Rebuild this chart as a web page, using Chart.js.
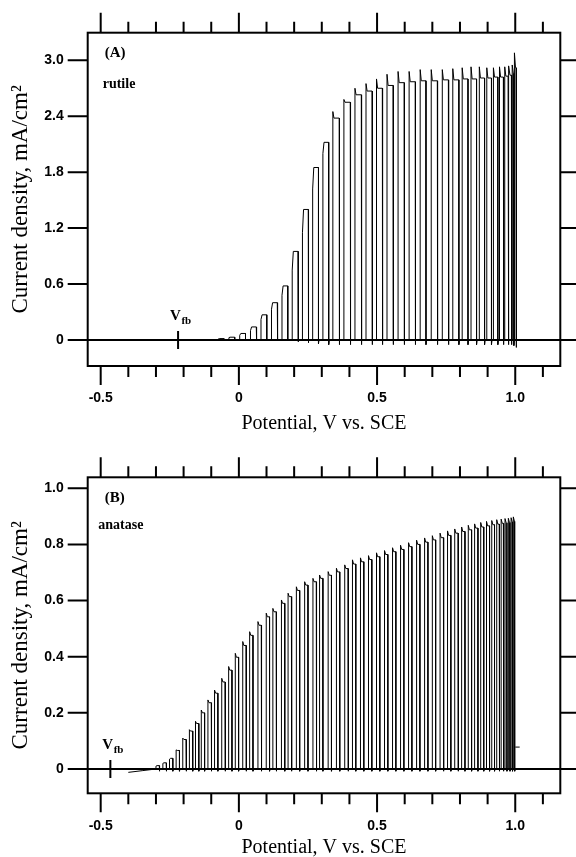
<!DOCTYPE html>
<html><head><meta charset="utf-8">
<script src="https://cdn.jsdelivr.net/npm/chart.js@4.4.0/dist/chart.umd.min.js"></script>
<style>
html,body{margin:0;padding:0;background:#fff;overflow:hidden;width:576px;height:857px;}
canvas{position:absolute;left:0;}
#c1{top:0;}
#c2{top:440px;}
</style></head><body>
<canvas id="c1" width="576" height="440"></canvas>
<canvas id="c2" width="576" height="440"></canvas>
<script>
// ---------- axis ticks ----------
const xTickValues = [-0.5, 0, 0.5, 1.0];
const xTickLabels = ['-0.5', '0', '0.5', '1.0'];
const xMinorValues = [-0.4, -0.3, -0.2, -0.1, 0.1, 0.2, 0.3, 0.4, 0.6, 0.7, 0.8, 0.9, 1.1];
const rutileYTicks = [0, 0.6, 1.2, 1.8, 2.4, 3.0];
const rutileYLabels = ['0', '0.6', '1.2', '1.8', '2.4', '3.0'];
const anataseYTicks = [0, 0.2, 0.4, 0.6, 0.8, 1.0];
const anataseYLabels = ['0', '0.2', '0.4', '0.6', '0.8', '1.0'];
const xTitle = 'Potential, V vs. SCE';
const yTitle = 'Current density, mA/cm²';
const rutileVfb = -0.22;
const anataseVfb = -0.465;

// ---------- (A) rutile: chopped-light cycles ----------
const rutileOnV  = [-0.075,-0.036,0.003,0.042,0.080,0.118,0.156,0.193,0.230,0.267,0.304,0.340,0.380,0.420,0.460,0.498,0.536,0.576,0.616,0.656,0.696,0.736,0.774,0.808,0.840,0.870,0.897,0.921,0.943,0.962,0.977,0.989,0.997];
const rutileOffV = [-0.054,-0.015,0.024,0.063,0.101,0.139,0.177,0.214,0.251,0.288,0.325,0.363,0.403,0.443,0.482,0.519,0.558,0.598,0.638,0.677,0.718,0.758,0.796,0.829,0.860,0.889,0.914,0.937,0.957,0.974,0.986,0.995,1.003];
const rutilePeakI = [0.010,0.025,0.050,0.100,0.220,0.330,0.480,0.750,1.150,1.620,2.000,2.450,2.580,2.700,2.750,2.800,2.850,2.880,2.880,2.900,2.900,2.900,2.910,2.920,2.930,2.930,2.920,2.920,2.930,2.930,2.940,2.950,3.080];
const rutileEndI  = [0.015,0.030,0.070,0.140,0.270,0.400,0.580,0.950,1.400,1.850,2.120,2.380,2.550,2.630,2.670,2.700,2.730,2.760,2.770,2.780,2.780,2.790,2.790,2.800,2.800,2.810,2.810,2.820,2.820,2.830,2.840,2.860,2.920];
const rutileDipI  = [0,0,0,0,0,0,-0.01,-0.02,-0.03,-0.04,-0.05,-0.05,-0.05,-0.05,-0.05,-0.05,-0.05,-0.05,-0.05,-0.05,-0.05,-0.05,-0.05,-0.05,-0.05,-0.05,-0.05,-0.05,-0.05,-0.05,-0.05,-0.06,-0.08];

// ---------- (B) anatase: chopped-light cycles ----------
const anataseDarkV = [-0.40, -0.35, -0.30];
const anataseDarkI = [-0.012, -0.006, 0];
const anataseOnV  = [-0.300,-0.275,-0.251,-0.227,-0.203,-0.179,-0.157,-0.136,-0.112,-0.088,-0.062,-0.037,-0.013,0.014,0.039,0.069,0.099,0.123,0.154,0.178,0.208,0.238,0.268,0.292,0.323,0.353,0.383,0.411,0.440,0.469,0.498,0.527,0.556,0.585,0.614,0.643,0.672,0.700,0.728,0.755,0.781,0.806,0.830,0.853,0.875,0.896,0.915,0.933,0.949,0.963,0.975,0.985,0.993];
const anataseOffV = [-0.288,-0.263,-0.239,-0.215,-0.191,-0.167,-0.145,-0.124,-0.100,-0.076,-0.050,-0.025,-0.001,0.026,0.051,0.081,0.111,0.135,0.166,0.190,0.220,0.250,0.280,0.304,0.335,0.365,0.395,0.423,0.452,0.481,0.510,0.539,0.568,0.597,0.626,0.655,0.684,0.712,0.740,0.767,0.793,0.818,0.842,0.865,0.886,0.907,0.925,0.942,0.957,0.970,0.981,0.990,0.998];
const anatasePeakI = [0.010,0.020,0.035,0.068,0.110,0.140,0.170,0.210,0.246,0.281,0.323,0.365,0.412,0.454,0.489,0.525,0.555,0.572,0.602,0.626,0.649,0.667,0.679,0.691,0.703,0.715,0.727,0.745,0.752,0.760,0.770,0.778,0.788,0.797,0.806,0.815,0.823,0.831,0.840,0.848,0.855,0.862,0.868,0.873,0.878,0.882,0.885,0.888,0.890,0.892,0.893,0.895,0.898];
const anataseEndI  = [0.012,0.022,0.038,0.066,0.105,0.135,0.162,0.200,0.236,0.270,0.310,0.352,0.398,0.440,0.476,0.512,0.542,0.560,0.590,0.614,0.636,0.655,0.667,0.679,0.690,0.702,0.714,0.730,0.738,0.746,0.756,0.764,0.774,0.782,0.792,0.800,0.808,0.816,0.824,0.832,0.840,0.846,0.852,0.858,0.862,0.866,0.870,0.872,0.875,0.877,0.878,0.880,0.882];
const anataseDipI = -0.008;
const anataseTailV = [1.000, 1.016];
const anataseTailI = [0.078, 0.078];

// ---------- build traces from the arrays ----------
const spikeDecayV = 0.004;   // width of the light-on current spike
const dipRecoverV = 0.002;   // width of the light-off transient
function buildTrace(onV, offV, peakI, endI, dip, preV, preI) {
  const pts = [];
  if (preV) preV.forEach((v, i) => pts.push({x: v, y: preI[i]}));
  onV.forEach((on, i) => {
    const d = Array.isArray(dip) ? dip[i] : dip;
    pts.push({x: on, y: 0});
    pts.push({x: on, y: peakI[i]});
    pts.push({x: Math.min(on + spikeDecayV, offV[i]), y: endI[i]});
    pts.push({x: offV[i], y: endI[i]});
    pts.push({x: offV[i], y: d});
    pts.push({x: offV[i] + dipRecoverV, y: 0});
  });
  return pts;
}
const rutileTrace = buildTrace(rutileOnV, rutileOffV, rutilePeakI, rutileEndI, rutileDipI);
const anataseTrace = buildTrace(anataseOnV, anataseOffV, anatasePeakI, anataseEndI, anataseDipI, anataseDarkV, anataseDarkI);
const anataseTail = anataseTailV.map((v, i) => ({x: v, y: anataseTailI[i]}));

// ---------- decoration plugin (box, ticks, zero line, labels) ----------
const decor = {
  id: 'decor',
  afterDraw(chart, args, o) {
    const {ctx, chartArea: a, scales: {x, y}} = chart;
    ctx.save();
    ctx.strokeStyle = '#000';
    ctx.lineWidth = 2;
    ctx.beginPath();
    for (const v of xMinorValues) {
      const px = x.getPixelForValue(v);
      ctx.moveTo(px, a.bottom); ctx.lineTo(px, a.bottom + 11);
      ctx.moveTo(px, a.top); ctx.lineTo(px, a.top - 11);
    }
    for (const v of xTickValues) {
      const px = x.getPixelForValue(v);
      ctx.moveTo(px, a.bottom); ctx.lineTo(px, a.bottom + 19);
      ctx.moveTo(px, a.top); ctx.lineTo(px, a.top - 20);
    }
    for (const v of o.yTicks) {
      const py = y.getPixelForValue(v);
      ctx.moveTo(a.left - 20, py); ctx.lineTo(a.left, py);
      ctx.moveTo(a.right, py); ctx.lineTo(chart.width, py);
    }
    const y0 = y.getPixelForValue(0);
    ctx.moveTo(a.left - 20, y0); ctx.lineTo(chart.width, y0);
    const vx = x.getPixelForValue(o.vfb);
    ctx.moveTo(vx, y0 - 9); ctx.lineTo(vx, y0 + 9);
    ctx.stroke();
    ctx.strokeRect(a.left, a.top, a.right - a.left, a.bottom - a.top);

    ctx.fillStyle = '#000';
    ctx.textBaseline = 'middle';
    ctx.textAlign = 'left';
    ctx.font = 'bold 15px "Liberation Serif"';
    ctx.fillText(o.panel, a.left + 17, a.top + o.panelDy);
    ctx.font = 'bold 14px "Liberation Serif"';
    ctx.fillText(o.name, a.left + o.nameDx, a.top + o.nameDy);
    // V_fb label
    ctx.textBaseline = 'alphabetic';
    ctx.font = 'bold 15px "Liberation Serif"';
    const vLeft = vx - 8;
    ctx.fillText('V', vLeft, y0 - 19.5);
    const vw = ctx.measureText('V').width;
    ctx.font = 'bold 11px "Liberation Serif"';
    ctx.fillText('fb', vLeft + vw + 0.5, y0 - 16);
    ctx.restore();
  }
};

function makeChart(id, cfg) {
  return new Chart(document.getElementById(id), {
    type: 'line',
    data: { datasets: cfg.datasets },
    options: {
      responsive: false, animation: false, devicePixelRatio: 1,
      layout: { padding: { top: cfg.padTop, right: 15.7, bottom: cfg.padBottom, left: 0 } },
      elements: { point: { radius: 0 }, line: { tension: 0 } },
      plugins: { legend: { display: false }, tooltip: { enabled: false }, title: { display: false },
        decor: cfg.decor },
      scales: {
        x: {
          type: 'linear', min: -0.547, max: 1.163,
          afterFit(s) { s.height = cfg.xAxisH; },
          afterBuildTicks(s) { s.ticks = xTickValues.map(v => ({ value: v })); },
          grid: { display: false, drawTicks: false },
          border: { display: false },
          ticks: { padding: 24, color: '#000', autoSkip: false, maxRotation: 0,
            font: { family: 'Liberation Sans', weight: 'bold', size: 14 },
            callback: (v, i) => xTickLabels[i] },
          title: { display: true, text: xTitle, color: '#000', padding: 0,
            font: { family: 'Liberation Serif', size: 20 } }
        },
        y: {
          type: 'linear', min: cfg.yMin, max: cfg.yMax,
          afterFit(s) { s.width = 87.7; },
          afterBuildTicks(s) { s.ticks = cfg.yTicks.map(v => ({ value: v })); },
          grid: { display: false, drawTicks: false },
          border: { display: false },
          ticks: { padding: 24, color: '#000', autoSkip: false,
            font: { family: 'Liberation Sans', weight: 'bold', size: 14 },
            callback: (v, i) => cfg.yLabels[i] },
          title: { display: true, text: yTitle, color: '#000', padding: { top: 7, bottom: 0 },
            font: { family: 'Liberation Serif', size: 23 } }
        }
      }
    },
    plugins: [decor]
  });
}

makeChart('c1', {
  padTop: 32.7, padBottom: 4, xAxisH: 70, yMin: -0.279, yMax: 3.296,
  yTicks: rutileYTicks, yLabels: rutileYLabels,
  datasets: [{ data: rutileTrace, borderColor: '#000', borderWidth: 1, pointRadius: 0 }],
  decor: { yTicks: rutileYTicks, vfb: rutileVfb, panel: '(A)', name: 'rutile', panelDy: 20.6, nameDx: 15, nameDy: 51.3 }
});
makeChart('c2', {
  padTop: 37.3, padBottom: 20, xAxisH: 66.7, yMin: -0.0866, yMax: 1.039,
  yTicks: anataseYTicks, yLabels: anataseYLabels,
  datasets: [
    { data: anataseTrace, borderColor: '#000', borderWidth: 1, pointRadius: 0 },
    { data: anataseTail, borderColor: '#000', borderWidth: 1, pointRadius: 0 }
  ],
  decor: { yTicks: anataseYTicks, vfb: anataseVfb, panel: '(B)', name: 'anatase', panelDy: 21, nameDx: 10.6, nameDy: 47.7 }
});
</script>
</body></html>
